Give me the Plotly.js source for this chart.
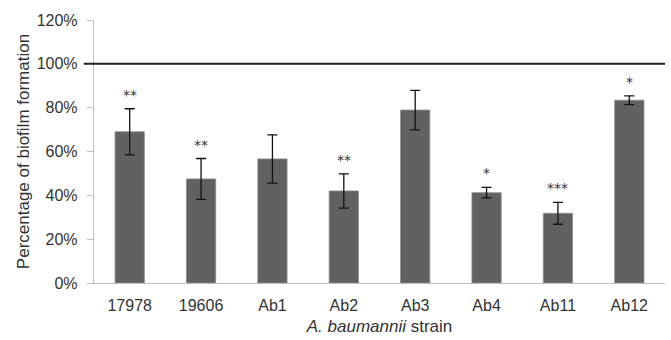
<!DOCTYPE html>
<html><head><meta charset="utf-8">
<script src="https://cdn.plot.ly/plotly-3.0.1.min.js"></script>
<style>html,body{margin:0;padding:0;background:#fff}#c{width:671px;height:340px}</style>
</head><body><div id="c"></div>
<script>
const strains = ["17978","19606","Ab1","Ab2","Ab3","Ab4","Ab11","Ab12"];
const biofilm = [0.69,0.475,0.566,0.42,0.789,0.412,0.318,0.834];
const errors = [0.105,0.093,0.11,0.078,0.09,0.024,0.05,0.02];
const significance = ["**","**","","**","","*","***","*"];
const referenceLevel = 1.0;

const annotations = strains.map((s,i)=>({
  x: i, y: biofilm[i]+errors[i], text: significance[i], showarrow:false,
  xref:'x', yref:'y', yanchor:'middle', yshift:14,
  font:{family:'DejaVu Sans, sans-serif', size:14, color:'#333'}
})).filter(a=>a.text);

Plotly.newPlot('c',[{
  type:'bar', x:strains, y:biofilm,
  marker:{color:'#616161', line:{color:'#8a8a8a', width:0.8}},
  error_y:{type:'data', array:errors, visible:true, color:'#111', thickness:1.3, width:5}
}],{
  width:671, height:340,
  margin:{l:94, r:6, t:20, b:57},
  paper_bgcolor:'#fff', plot_bgcolor:'#fff',
  bargap:0.59, showlegend:false,
  font:{family:'Liberation Sans, Arial, sans-serif', color:'#333'},
  xaxis:{type:'category', showline:true, linecolor:'#bfbfbf', linewidth:1.2, ticks:'', ticklabelstandoff:8,
    tickfont:{size:16, color:'#333'},
    title:{text:'<i>A. baumannii</i> strain', font:{size:17, color:'#333'}, standoff:6}},
  yaxis:{range:[0,1.2], dtick:0.2, tickformat:'.0%', showgrid:false, zeroline:false,
    showline:true, linecolor:'#bfbfbf', linewidth:1.2, ticks:'outside', ticklen:6, tickcolor:'#bfbfbf',
    ticklabelstandoff:6, tickfont:{size:16, color:'#333'},
    title:{text:'Percentage of biofilm formation', font:{size:17, color:'#333'}, standoff:2}},
  shapes:[{type:'line', xref:'paper', yref:'y', x0:-0.018, x1:1, y0:referenceLevel, y1:referenceLevel,
    line:{color:'#222', width:2}}],
  annotations: annotations
},{displayModeBar:false, staticPlot:true});
</script></body></html>
